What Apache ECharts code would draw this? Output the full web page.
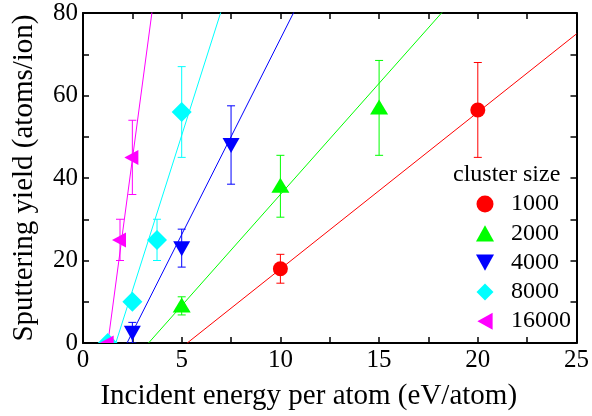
<!DOCTYPE html>
<html>
<head>
<meta charset="utf-8">
<script src="https://cdn.jsdelivr.net/npm/echarts@6/dist/echarts.min.js"></script>
<style>
  html, body { margin: 0; padding: 0; background: #fff; font-family: "Liberation Serif", serif; }
  #chart { width: 592px; height: 416px; }
</style>
</head>
<body>
<div id="chart"></div>
<script>
// Sputtering yield vs incident energy per atom, for several cluster sizes
const clusterSizes = ['1000', '2000', '4000', '8000', '16000'];
const seriesColors = ['#ff0000', '#00ff00', '#0000ff', '#00ffff', '#ff00ff'];

const energy1000 = [10, 20];
const yield1000 = [18, 56.5];
const error1000 = [3.5, 11.5];

const energy2000 = [5, 10, 15];
const yield2000 = [9, 38, 57];
const error2000 = [2.2, 7.5, 11.5];

const energy4000 = [2.5, 5, 7.5];
const yield4000 = [2.5, 23, 48];
const error4000 = [2.5, 4.6, 9.5];

const energy8000 = [1.25, 2.5, 3.75, 5];
const yield8000 = [0, 10, 25, 56];
const error8000 = [0, 0, 5, 11];

const energy16000 = [1.25, 1.875, 2.5];
const yield16000 = [0, 25, 45];
const error16000 = [0, 5, 9];

// Linear fits: threshold energy (where yield reaches zero) and slope
const fitThreshold = [5.28, 3.32, 2.23, 1.66, 1.26];
const fitSlope = [3.80, 5.39, 9.49, 15.07, 35.9];

const xTicks = { min: 0, max: 25, step: 2.5, labelEvery: 5 };
const yTicks = { min: 0, max: 80, step: 10, labelEvery: 20 };

const energies = [energy1000, energy2000, energy4000, energy8000, energy16000];
const yieldsAll = [yield1000, yield2000, yield4000, yield8000, yield16000];
const errorsAll = [error1000, error2000, error4000, error8000, error16000];

const FONT = '"Liberation Serif", serif';

// marker shapes drawn around each data point
const markerKinds = ['circle', 'up', 'down', 'diamond', 'left'];
const legendIcons = [
  'circle',
  'path://M5,0 L10,9 L0,9 Z',
  'path://M0,0 L10,0 L5,9 Z',
  'path://M5,0 L10,5 L5,10 L0,5 Z',
  'path://M0,5 L9,0 L9,10 Z'
];

function markerShape(kind, cx, cy, color) {
  const style = { fill: color, stroke: null };
  if (kind === 'circle') {
    return { type: 'circle', shape: { cx: cx, cy: cy, r: 7.5 }, style: style };
  }
  let pts;
  if (kind === 'up') pts = [[cx, cy - 8.5], [cx + 9, cy + 6.5], [cx - 9, cy + 6.5]];
  else if (kind === 'down') pts = [[cx - 8.5, cy - 7], [cx + 8.5, cy - 7], [cx, cy + 8]];
  else if (kind === 'diamond') pts = [[cx, cy - 10], [cx + 10, cy], [cx, cy + 10], [cx - 10, cy]];
  else pts = [[cx - 8, cy], [cx + 6, cy - 7.5], [cx + 6, cy + 7.5]];
  return { type: 'polygon', shape: { points: pts }, style: style };
}

function makeRenderItem(idx) {
  const color = seriesColors[idx];
  return function (params, api) {
    const x = api.value(0), y = api.value(1), e = api.value(2);
    const c = api.coord([x, y]);
    const children = [];
    if (e > 0) {
      const top = api.coord([x, y + e]);
      const bot = api.coord([x, y - e]);
      const ls = { stroke: color, lineWidth: 1 };
      children.push({ type: 'line', shape: { x1: c[0], y1: top[1], x2: c[0], y2: bot[1] }, style: ls });
      children.push({ type: 'line', shape: { x1: c[0] - 4, y1: top[1], x2: c[0] + 4, y2: top[1] }, style: ls });
      children.push({ type: 'line', shape: { x1: c[0] - 4, y1: bot[1], x2: c[0] + 4, y2: bot[1] }, style: ls });
    }
    children.push(markerShape(markerKinds[idx], c[0], c[1], color));
    return { type: 'group', children: children };
  };
}

const series = [];
// fit lines first so the markers sit on top
clusterSizes.forEach(function (name, i) {
  const e0 = fitThreshold[i];
  series.push({
    name: 'fit ' + name,
    type: 'line',
    data: [[e0, 0], [xTicks.max, fitSlope[i] * (xTicks.max - e0)]],
    symbol: 'none',
    clip: true,
    silent: true,
    lineStyle: { color: seriesColors[i], width: 1 },
    z: 2
  });
});
clusterSizes.forEach(function (name, i) {
  series.push({
    name: name,
    type: 'custom',
    clip: true,
    itemStyle: { color: seriesColors[i] },
    data: energies[i].map(function (en, k) { return [en, yieldsAll[i][k], errorsAll[i][k]]; }),
    encode: { x: 0, y: 1 },
    renderItem: makeRenderItem(i),
    z: 3
  });
});

function frameAxis(base, extra) {
  return Object.assign({
    type: 'value',
    min: base.min,
    max: base.max,
    interval: base.step,
    axisLine: { show: true, onZero: false, lineStyle: { color: '#000', width: 2 } },
    axisTick: { show: true, inside: true, length: 6, lineStyle: { color: '#000', width: 1.5 } },
    splitLine: { show: false }
  }, extra);
}

const tickLabel = function (base) {
  return {
    fontFamily: FONT, fontSize: 25, color: '#000',
    formatter: function (v) { return (Math.abs(v % base.labelEvery) < 1e-9) ? String(v) : ''; }
  };
};

const option = {
  animation: false,
  backgroundColor: '#fff',
  textStyle: { fontFamily: FONT, color: '#000' },
  grid: { left: 83, right: 12, top: 13, bottom: 72, containLabel: false },
  xAxis: [
    frameAxis(xTicks, {
      position: 'bottom',
      axisLabel: Object.assign(tickLabel(xTicks), { margin: 5 }),
      name: 'Incident energy per atom (eV/atom)',
      nameLocation: 'middle',
      nameGap: 39,
      nameTextStyle: { fontFamily: FONT, fontSize: 29, color: '#000', padding: [0, 42, 0, 0] }
    }),
    frameAxis(xTicks, { position: 'top', axisLabel: { show: false } })
  ],
  yAxis: [
    frameAxis(yTicks, {
      position: 'left',
      axisLabel: Object.assign(tickLabel(yTicks), { margin: 5 }),
      name: 'Sputtering yield (atoms/ion)',
      nameLocation: 'middle',
      nameGap: 44,
      nameTextStyle: { fontFamily: FONT, fontSize: 29, color: '#000' }
    }),
    frameAxis(yTicks, { position: 'right', axisLabel: { show: false } })
  ],
  legend: {
    data: clusterSizes.map(function (name, i) { return { name: name, icon: legendIcons[i] }; }),
    orient: 'vertical',
    left: 471,
    top: 187,
    itemWidth: 18,
    itemHeight: 17,
    itemGap: 5.3,
    selectedMode: false,
    textStyle: { fontFamily: FONT, fontSize: 24, color: '#000', padding: [0, 0, 0, 12] }
  },
  graphic: [{
    type: 'text',
    left: 453,
    top: 163,
    style: { text: 'cluster size', font: '24px ' + FONT, fill: '#000' }
  }],
  series: series
};

function draw() {
  const chart = echarts.init(document.getElementById('chart'), null, { renderer: 'canvas' });
  chart.setOption(option);
}

if (document.fonts && document.fonts.load) {
  Promise.all([
    document.fonts.load('25px "Liberation Serif"', '0123456789'),
    document.fonts.load('29px "Liberation Serif"', 'Sputtering yield')
  ]).then(draw, draw);
} else {
  draw();
}
</script>
</body>
</html>
